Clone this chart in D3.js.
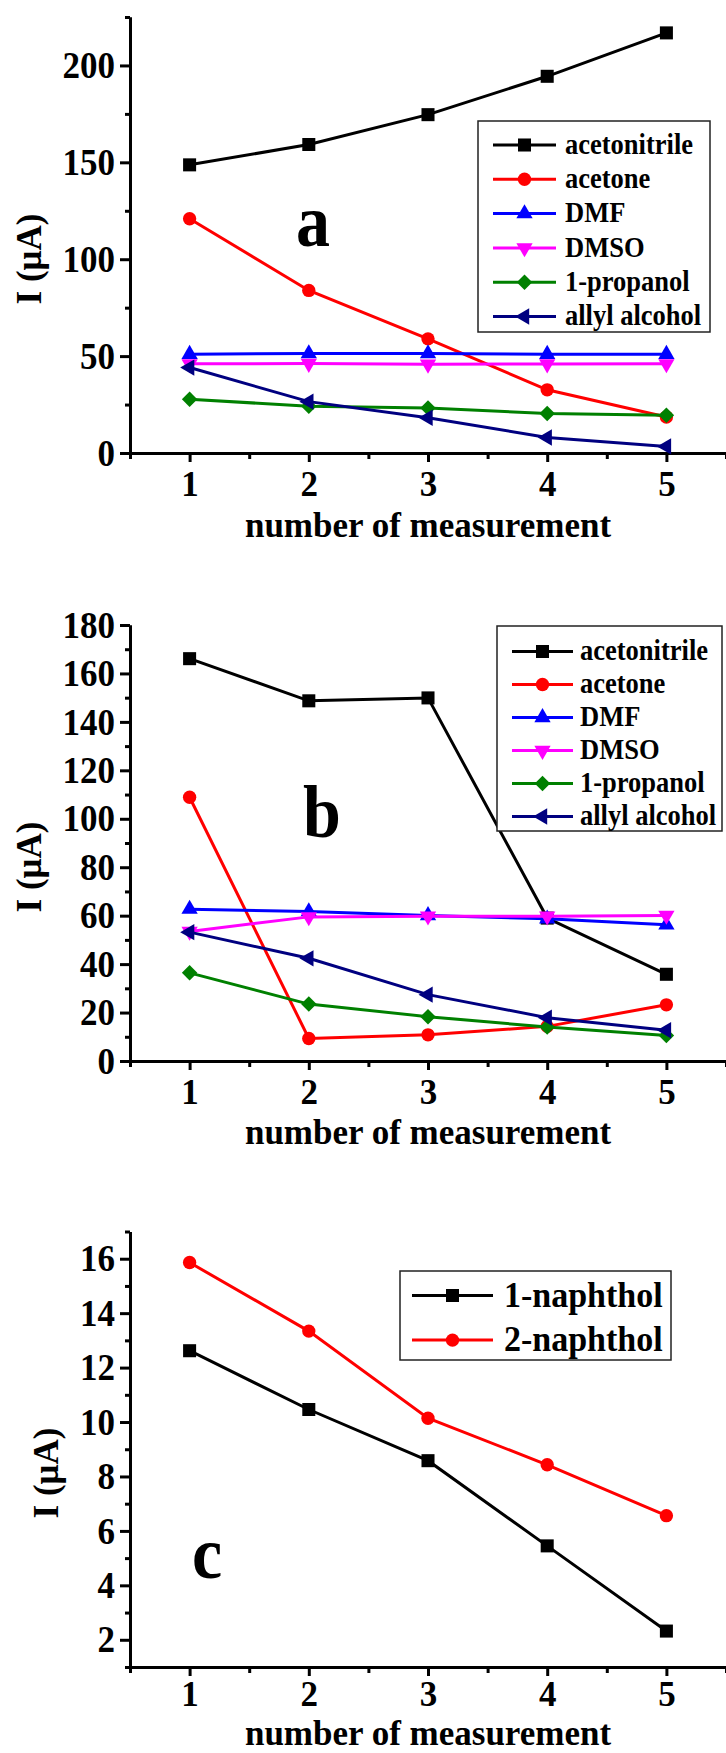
<!DOCTYPE html>
<html>
<head>
<meta charset="utf-8">
<script src="https://cdn.jsdelivr.net/npm/d3@7"></script>
<style>
  html, body { margin: 0; padding: 0; background: #fff; }
  svg { display: block; }
</style>
</head>
<body>
<div id="chart"></div>
<script>
// number of measurement (x)
var measurements = [1, 2, 3, 4, 5];
var xTickLabels = ["1", "2", "3", "4", "5"];

// panel a
var solventsA = ["acetonitrile", "acetone", "DMF", "DMSO", "1-propanol", "allyl alcohol"];
var acetonitrileA = [148.7, 159.2, 174.6, 194.4, 216.8];
var acetoneA = [120.9, 83.9, 58.9, 32.6, 18.6];
var dmfA = [51.0, 51.3, 51.3, 51.0, 51.0];
var dmsoA = [46.0, 46.2, 45.8, 45.9, 46.0];
var propanolA = [27.8, 24.1, 23.2, 20.4, 19.5];
var allylA = [44.1, 26.5, 18.2, 8.0, 3.4];
var yTicksA = [0, 50, 100, 150, 200];
var yMinorA = [25, 75, 125, 175, 225];

// panel b
var solventsB = ["acetonitrile", "acetone", "DMF", "DMSO", "1-propanol", "allyl alcohol"];
var acetonitrileB = [166.1, 148.7, 149.9, 59.0, 35.8];
var acetoneB = [108.9, 9.3, 10.8, 14.3, 23.2];
var dmfB = [62.7, 61.7, 60.1, 58.7, 56.2];
var dmsoB = [53.5, 59.5, 59.8, 59.8, 60.1];
var propanolB = [36.4, 23.5, 18.3, 14.0, 10.5];
var allylB = [53.2, 42.4, 27.4, 17.9, 12.7];
var yTicksB = [0, 20, 40, 60, 80, 100, 120, 140, 160, 180];
var yMinorB = [10, 30, 50, 70, 90, 110, 130, 150, 170];

// panel c
var compoundsC = ["1-naphthol", "2-naphthol"];
var naphthol1C = [12.62, 10.46, 8.58, 5.45, 2.32];
var naphthol2C = [15.86, 13.34, 10.14, 8.43, 6.56];
var yTicksC = [2, 4, 6, 8, 10, 12, 14, 16];
var yMinorC = [1, 3, 5, 7, 9, 11, 13, 15, 17];

var colors = ["#000000", "#ff0000", "#0000ff", "#ff00ff", "#008000", "#000080"];
var markers = ["square", "circle", "up", "down", "diamond", "left"];

var FONT = '"Liberation Serif", "Times New Roman", Times, serif';
var STRETCH = 1.08; // el texto del original se ve un poco alargado en vertical

var width = 726, height = 1753;
var xLeft = 130, xRight = 726;

var svg = d3.select("#chart").append("svg")
    .attr("width", width)
    .attr("height", height);

var panels = [
    {
        letter: "a", letterX: 296, letterY: 246,
        top: 17, bottom: 453, yDomain: [0, 225],
        yMajor: yTicksA, yMinor: yMinorA,
        names: solventsA,
        values: [acetonitrileA, acetoneA, dmfA, dmsoA, propanolA, allylA],
        yTitleX: 41, yTitleY: 259, xTitleY: 537, xLabelPad: 9,
        legend: { x0: 478, y0: 121, x1: 710, y1: 332, row0: 145, step: 34.3, lx0: 493, lx1: 556, tx: 565, font: 26.5 }
    },
    {
        letter: "b", letterX: 303, letterY: 837,
        top: 625, bottom: 1061, yDomain: [0, 180],
        yMajor: yTicksB, yMinor: yMinorB,
        names: solventsB,
        values: [acetonitrileB, acetoneB, dmfB, dmsoB, propanolB, allylB],
        yTitleX: 41, yTitleY: 867, xTitleY: 1143.5, xLabelPad: 9,
        legend: { x0: 497, y0: 626, x1: 722, y1: 831, row0: 651.5, step: 33, lx0: 512, lx1: 573, tx: 580, font: 26.5 }
    },
    {
        // aqui el titulo del eje x queda pegado al borde inferior
        letter: "c", letterX: 192, letterY: 1578,
        top: 1231.5, bottom: 1667, yDomain: [1, 17],
        yMajor: yTicksC, yMinor: yMinorC,
        names: compoundsC,
        values: [naphthol1C, naphthol2C],
        yTitleX: 58, yTitleY: 1473, xTitleY: 1745, xLabelPad: 5,
        legend: { x0: 400, y0: 1271, x1: 671, y1: 1360, row0: 1295.5, step: 44.6, lx0: 412, lx1: 493, tx: 504, font: 34 }
    }
];

function symbolPath(kind) {
    if (kind === "square") return d3.symbol(d3.symbolSquare, 170)();
    if (kind === "circle") return d3.symbol(d3.symbolCircle, 140)();
    if (kind === "diamond") return d3.symbol(d3.symbolSquare, 120)();
    return d3.symbol(d3.symbolTriangle, 115)();
}

function symbolRotate(kind) {
    if (kind === "down") return 180;
    if (kind === "left") return -90;
    if (kind === "diamond") return 45;
    return 0;
}

// texto horizontal: se coloca con translate y se estira un poco en vertical
function addText(parent, x, y, size, str, anchor, stretch) {
    var s = stretch === undefined ? STRETCH : stretch;
    return parent.append("text")
        .attr("transform", "translate(" + x + "," + y + ") scale(1," + s + ")")
        .attr("text-anchor", anchor || "start")
        .style("font-family", FONT)
        .style("font-weight", "bold")
        .style("font-size", size + "px")
        .attr("fill", "#000")
        .text(str);
}

function styleTickText(sel, stretch) {
    sel.selectAll(".tick text").each(function () {
        var t = d3.select(this);
        var tx = +t.attr("x") || 0, ty = +t.attr("y") || 0;
        t.style("font-family", FONT)
            .style("font-weight", "bold")
            .style("font-size", "35px")
            .attr("fill", "#000")
            .attr("transform", "translate(" + tx + "," + ty + ") scale(1," + stretch + ") translate(" + (-tx) + "," + (-ty) + ")");
    });
}

panels.forEach(function (p) {
    var x = d3.scaleLinear().domain([0.5, 5.5]).range([xLeft, xRight]);
    var y = d3.scaleLinear().domain(p.yDomain).range([p.bottom, p.top]);

    var g = svg.append("g");

    // ejes: menores primero
    var xMinor = d3.axisBottom(x).tickValues([0.5, 1.5, 2.5, 3.5, 4.5, 5.5]).tickSize(6).tickFormat("").tickSizeOuter(0);
    var xMajor = d3.axisBottom(x).tickValues(measurements).tickSize(9).tickPadding(p.xLabelPad)
        .tickFormat(function (d, i) { return xTickLabels[i]; }).tickSizeOuter(0);
    var yMinorAx = d3.axisLeft(y).tickValues(p.yMinor).tickSize(5).tickFormat("").tickSizeOuter(0);
    var yMajorAx = d3.axisLeft(y).tickValues(p.yMajor).tickSize(10).tickPadding(5).tickSizeOuter(0);

    g.append("g").attr("transform", "translate(0," + p.bottom + ")").call(xMinor);
    var gx = g.append("g").attr("transform", "translate(0," + p.bottom + ")").call(xMajor);
    g.append("g").attr("transform", "translate(" + xLeft + ",0)").call(yMinorAx);
    var gy = g.append("g").attr("transform", "translate(" + xLeft + ",0)").call(yMajorAx);

    g.selectAll(".domain").attr("stroke", "#000").attr("stroke-width", 3);
    g.selectAll(".tick line").attr("stroke", "#000").attr("stroke-width", 3);
    // bajo el eje x no se estira, para que etiquetas y titulo no se pisen
    styleTickText(gx, 1);
    styleTickText(gy, STRETCH);

    // titulos de ejes
    addText(g, (xLeft + xRight) / 2, p.xTitleY, 35, "number of measurement", "middle", 1);

    g.append("text")
        .attr("transform", "translate(" + p.yTitleX + "," + p.yTitleY + ") rotate(-90)")
        .attr("text-anchor", "middle")
        .style("font-family", FONT)
        .style("font-weight", "bold")
        .style("font-size", "35px")
        .text("I (\u03BCA)");

    // letra del panel
    addText(g, p.letterX, p.letterY, 68, p.letter);

    // series
    var line = d3.line()
        .x(function (d, i) { return x(measurements[i]); })
        .y(function (d) { return y(d); });

    p.values.forEach(function (vals, k) {
        var color = colors[k];
        g.append("path")
            .datum(vals)
            .attr("d", line)
            .attr("fill", "none")
            .attr("stroke", color)
            .attr("stroke-width", 3);

        g.selectAll(null)
            .data(vals)
            .enter()
            .append("path")
            .attr("d", symbolPath(markers[k]))
            .attr("transform", function (d, i) {
                return "translate(" + x(measurements[i]) + "," + y(d) + ") rotate(" + symbolRotate(markers[k]) + ")";
            })
            .attr("fill", color);
    });

    // leyenda
    var L = p.legend;
    g.append("rect")
        .attr("x", L.x0)
        .attr("y", L.y0)
        .attr("width", L.x1 - L.x0)
        .attr("height", L.y1 - L.y0)
        .attr("fill", "#fff")
        .attr("stroke", "#222")
        .attr("stroke-width", 1.5);

    p.names.forEach(function (name, k) {
        var ry = L.row0 + k * L.step;
        g.append("line")
            .attr("x1", L.lx0).attr("x2", L.lx1)
            .attr("y1", ry).attr("y2", ry)
            .attr("stroke", colors[k])
            .attr("stroke-width", 3);
        g.append("path")
            .attr("d", symbolPath(markers[k]))
            .attr("transform", "translate(" + (L.lx0 + L.lx1) / 2 + "," + ry + ") rotate(" + symbolRotate(markers[k]) + ")")
            .attr("fill", colors[k]);
        addText(g, L.tx, ry + L.font * 0.33, L.font, name);
    });
});
</script>
</body>
</html>
